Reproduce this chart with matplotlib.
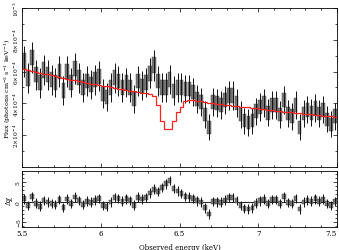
import numpy as np
import matplotlib
matplotlib.use("Agg")
import matplotlib.pyplot as plt
from matplotlib.ticker import MultipleLocator

plt.rcParams['font.family'] = ['DejaVu Serif']
plt.rcParams['mathtext.fontset'] = 'dejavuserif'

# Binned spectrum, 5.5 - 7.5 keV, 0.025 keV bins (flux in units of 1e-4)
e_lo = 5.5
bin_w = 0.025

flux = [6.65, 5.6, 6.9, 5.8, 5.3, 6.1, 5.8, 5.5, 5.3, 6.0,
        4.8, 6.0, 5.3, 6.2, 5.6, 5.0, 5.4, 5.2, 5.5, 5.7,
        4.6, 4.4, 5.0, 5.6, 5.4, 5.0, 5.3, 5.0, 4.3, 5.4,
        5.1, 5.3, 5.9, 6.4, 5.4, 5.0, 5.0, 5.5, 4.8, 5.0,
        5.0, 4.9, 4.9, 4.7, 4.3, 4.1, 3.3, 2.5, 4.1, 4.0,
        3.9, 4.2, 4.5, 4.5, 4.0, 3.3, 2.9, 2.8, 2.9, 3.5,
        3.8, 4.0, 3.4, 3.9, 3.9, 3.3, 4.2, 3.35, 3.2, 3.9,
        2.5, 3.35, 3.6, 3.4, 3.7, 3.35, 3.6, 3.0, 2.7, 3.2]

sigma = [0.62, 0.60, 0.61, 0.60, 0.59, 0.60, 0.60, 0.59, 0.58, 0.60,
         0.58, 0.60, 0.58, 0.60, 0.59, 0.57, 0.58, 0.58, 0.59, 0.59,
         0.57, 0.56, 0.58, 0.59, 0.58, 0.57, 0.58, 0.57, 0.55, 0.58,
         0.57, 0.58, 0.59, 0.61, 0.58, 0.57, 0.57, 0.58, 0.56, 0.57,
         0.57, 0.56, 0.56, 0.56, 0.55, 0.55, 0.53, 0.51, 0.55, 0.55,
         0.55, 0.56, 0.57, 0.57, 0.55, 0.53, 0.52, 0.52, 0.52, 0.54,
         0.55, 0.55, 0.53, 0.55, 0.55, 0.53, 0.56, 0.53, 0.53, 0.55,
         0.50, 0.53, 0.54, 0.53, 0.54, 0.53, 0.54, 0.52, 0.51, 0.53]

model = [6.17, 6.11, 6.05, 5.99, 5.93, 5.87, 5.82, 5.76, 5.71, 5.66,
         5.60, 5.55, 5.50, 5.45, 5.40, 5.35, 5.30, 5.25, 5.21, 5.16,
         5.11, 5.07, 5.02, 4.98, 4.93, 4.89, 4.84, 4.80, 4.75, 4.71,
         4.67, 4.63, 4.59, 4.45, 3.90, 2.90, 2.40, 2.40, 2.90, 3.45,
         3.80, 4.12, 4.22, 4.19, 4.15, 4.12, 4.08, 4.05, 4.02, 3.99,
         3.95, 3.92, 3.89, 3.86, 3.83, 3.80, 3.77, 3.74, 3.71, 3.68,
         3.65, 3.62, 3.60, 3.57, 3.54, 3.51, 3.48, 3.46, 3.43, 3.40,
         3.38, 3.35, 3.33, 3.30, 3.28, 3.25, 3.23, 3.21, 3.18, 3.16]

flux_ticks = [2e-4, 4e-4, 6e-4, 8e-4, 1e-3]
flux_tick_labels = [r'2$\times$10$^{-4}$', r'4$\times$10$^{-4}$',
                    r'6$\times$10$^{-4}$', r'8$\times$10$^{-4}$', r'10$^{-3}$']
energy_ticks = [5.5, 6, 6.5, 7, 7.5]
energy_tick_labels = ['5.5', '6', '6.5', '7', '7.5']

flux = np.array(flux)
sigma = np.array(sigma)
model = np.array(model)
edges = e_lo + bin_w * np.arange(len(flux) + 1)
centers = 0.5 * (edges[:-1] + edges[1:])
resid = (flux - model) / sigma

scale = 1e-4
box_col = '#7a7a7a'
box_edge = '#3a3a3a'
fs = 5

fig = plt.figure(figsize=(3.39, 2.51), dpi=100)
ax1 = fig.add_axes([0.065, 0.331, 0.929, 0.633])
ax2 = fig.add_axes([0.065, 0.092, 0.929, 0.223], sharex=ax1)

# top panel: data + model
ax1.bar(centers, 2 * 0.8 * sigma * scale, bottom=(flux - 0.8 * sigma) * scale,
        width=bin_w * 0.92, color=box_col, edgecolor=box_edge, linewidth=0.3, zorder=2)
ax1.vlines(centers, (flux - 1.6 * sigma) * scale, (flux + 1.6 * sigma) * scale,
           color='#111111', linewidth=0.7, zorder=3)
ax1.stairs(model * scale, edges, baseline=None, color='#ff2020', linewidth=0.9, zorder=4)

ax1.set_xlim(5.5, 7.5)
ax1.set_ylim(0, 1e-3)
ax1.set_yticks(flux_ticks)
ax1.set_yticklabels(flux_tick_labels, rotation=90, va='center')
ax1.yaxis.set_minor_locator(MultipleLocator(1e-4))
ax1.tick_params(labelbottom=False)
ax1.set_ylabel(r'Flux (photons cm$^{-2}$ s$^{-1}$ keV$^{-1}$)', fontsize=4.6)

# bottom panel: residuals
ax2.axhline(0, color='black', linewidth=0.6, zorder=1)
ax2.bar(centers, 2 * 0.6, bottom=resid - 0.6, width=bin_w * 0.92,
        color=box_col, edgecolor=box_edge, linewidth=0.3, zorder=2)
ax2.vlines(centers, resid - 1.2, resid + 1.2, color='#111111', linewidth=0.7, zorder=3)
ax2.set_ylim(-6.3, 7.8)
ax2.set_yticks([-5, 0, 5])
ax2.set_yticklabels(['\u22125', '0', '5'], rotation=90, va='center')
ax2.yaxis.set_minor_locator(MultipleLocator(1))
ax2.set_xticks(energy_ticks)
ax2.set_xticklabels(energy_tick_labels)
ax2.get_xticklabels()[-1].set_horizontalalignment('right')
ax2.set_ylabel('\u0394\u03c7', fontsize=fs)
ax2.set_xlabel('Observed energy (keV)', fontsize=fs, labelpad=4)

for ax in (ax1, ax2):
    ax.xaxis.set_minor_locator(MultipleLocator(0.1))
    ax.tick_params(which='both', direction='in', top=True, right=True,
                   labelsize=fs, width=0.5, pad=1.5)
    ax.tick_params(axis='y', labelsize=4.3, pad=0.8)
    ax.tick_params(which='major', length=3)
    ax.tick_params(which='minor', length=1.5)
    ax.yaxis.set_label_coords(-0.030, 0.5)
    for s in ax.spines.values():
        s.set_linewidth(0.6)

fig.savefig('out.png', dpi=100)
